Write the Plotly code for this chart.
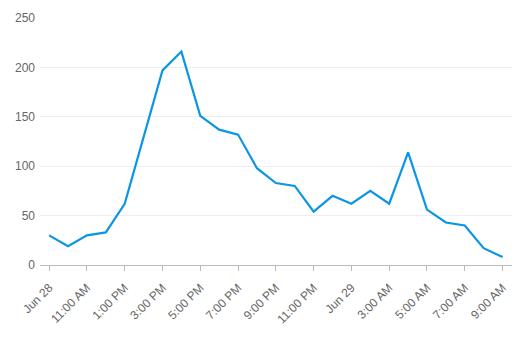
import plotly.graph_objects as go
import pandas as pd

times = pd.date_range("2023-06-28 09:00", "2023-06-29 09:00", freq="h")
values = [30, 19, 30, 33, 62, 130, 197, 216, 151, 137, 132, 98, 83, 80, 54, 70, 62, 75, 62, 114, 56, 43, 40, 17, 8]
tick_times = pd.date_range("2023-06-28 09:00", "2023-06-29 09:00", freq="2h")
tick_labels = ["Jun 28", "11:00 AM", "1:00 PM", "3:00 PM", "5:00 PM", "7:00 PM", "9:00 PM",
               "11:00 PM", "Jun 29", "3:00 AM", "5:00 AM", "7:00 AM", "9:00 AM"]
y_ticks = [0, 50, 100, 150, 200, 250]

fig = go.Figure(go.Scatter(x=times, y=values, mode="lines",
                           line=dict(color="#0b95e5", width=2.2)))

fig.update_layout(
    width=519, height=337,
    margin=dict(l=40, r=7, t=18, b=72),
    paper_bgcolor="white", plot_bgcolor="white",
    showlegend=False,
    font=dict(family="Arial, Liberation Sans, sans-serif", size=12, color="#666"),
)
fig.update_xaxes(
    range=["2023-06-28 08:31", "2023-06-29 09:30"],
    tickvals=tick_times, ticktext=tick_labels, tickangle=-45,
    showgrid=False, showline=True, linecolor="#bbb", linewidth=1,
    ticks="outside", ticklen=5, tickcolor="#bbb",
    tickfont=dict(size=12, color="#666"), ticklabelstandoff=5,
)
fig.update_yaxes(
    range=[0, 250], tickvals=y_ticks,
    showgrid=True, gridcolor="#eee", zeroline=False, showline=False,
    tickfont=dict(size=12, color="#666"), ticklabelstandoff=4,
)
fig.write_html("out.html")
